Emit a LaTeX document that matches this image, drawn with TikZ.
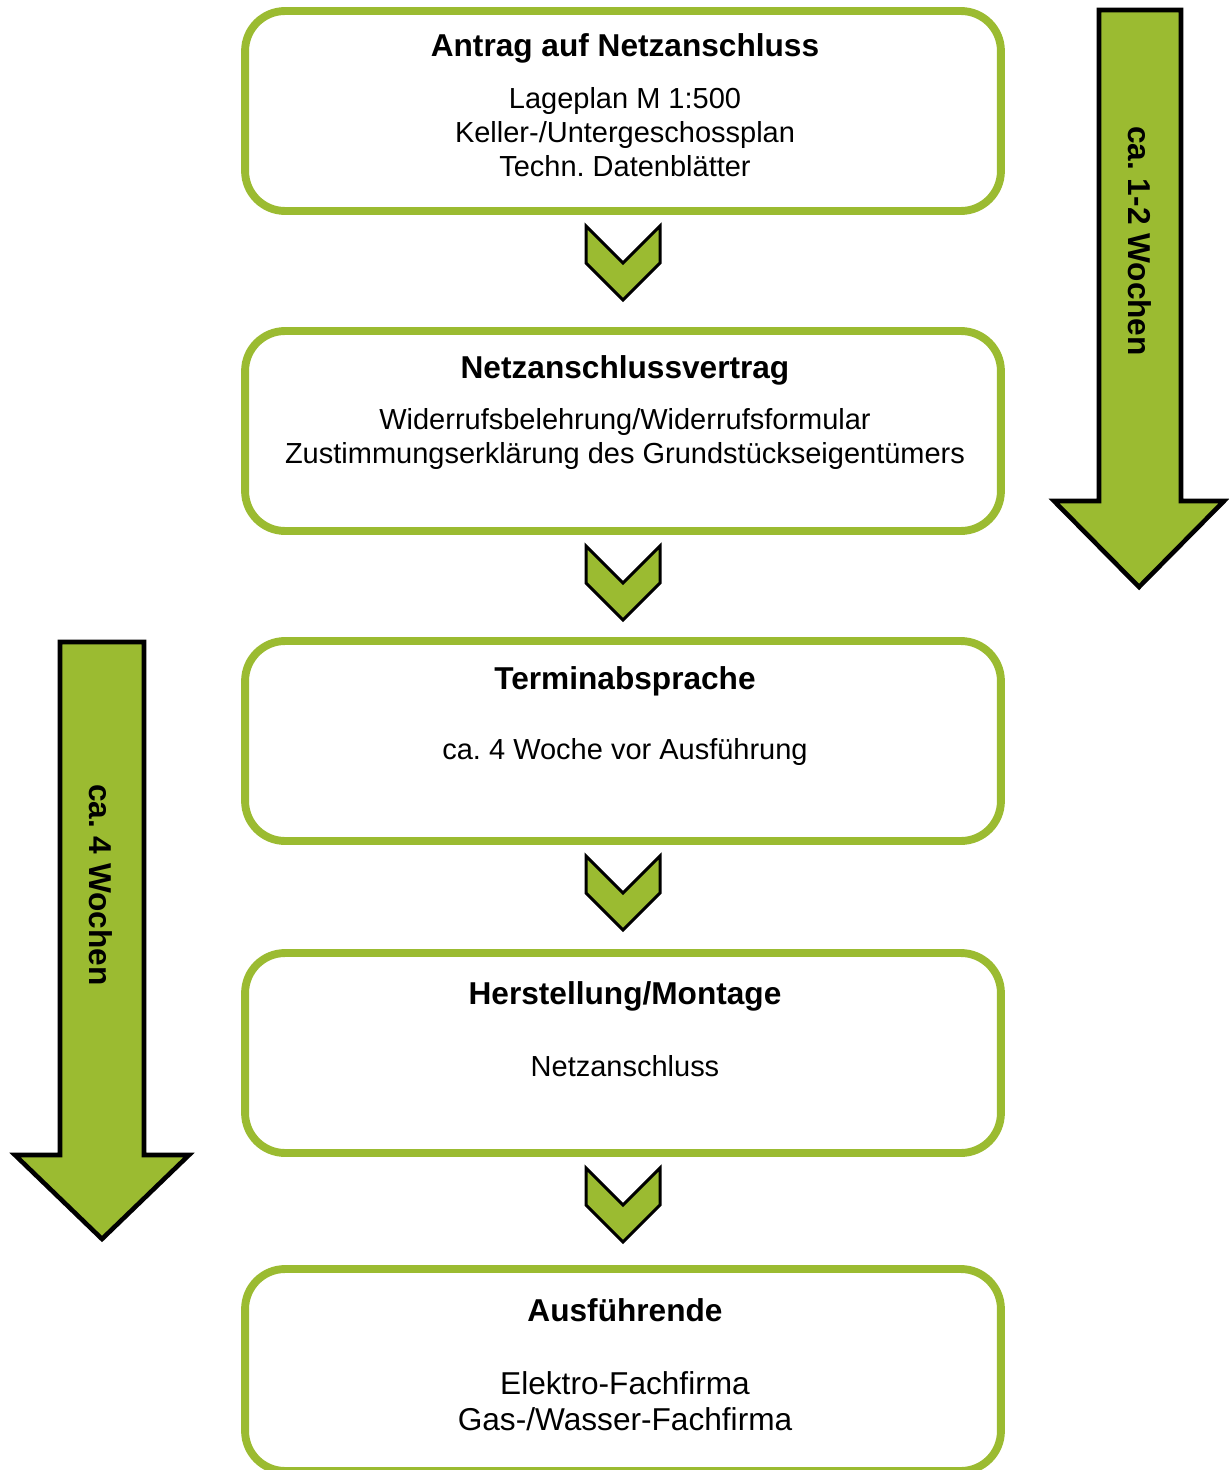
\documentclass[tikz,border=0pt]{standalone}
\usepackage{fontspec}
\setmainfont{Liberation Sans}
\usetikzlibrary{calc}

\definecolor{netzgruen}{RGB}{155,187,49}

\tikzset{
	stepbox/.style={draw=netzgruen, line width=4.5pt, rounded corners=0.8cm,
		minimum width=15.12cm, minimum height=4cm},
	titel/.style={font=\fontsize{18}{21}\selectfont\bfseries},
	inhalt/.style={font=\fontsize{16.5}{19.3}\selectfont, align=center},
	chevron/.style={fill=netzgruen, draw=black, line width=1.7pt, line join=miter},
	dauerpfeil/.style={fill=netzgruen, draw=black, line width=2.6pt, line join=miter},
	dauer/.style={font=\fontsize{18}{21}\selectfont\bfseries, rotate=-90},
}

\frenchspacing

\begin{document}
\begin{tikzpicture}[x=0.02cm, y=-0.02cm]
		\def\X{623}
		\def\T{625}

		\useasboundingbox (0,0) rectangle (1229,1470);

		% Schritte
		\node[stepbox] (antrag) at (\X,111) {};
		\node[stepbox] (vertrag) at (\X,431) {};
		\node[stepbox] (termin) at (\X,741) {};
		\node[stepbox] (montage) at (\X,1053) {};
		\node[stepbox, minimum height=4.04cm] (ausfuehrende) at (\X,1370) {};

		\node[titel] (antrag-titel) at (\T,48) {Antrag auf Netzanschluss};
		\node[inhalt] (antrag-text) at (\T,132)
			{Lageplan M 1:500\\Keller-/Untergeschossplan\\Techn. Datenblätter};

		\node[titel] (vertrag-titel) at (\T,370) {Netzanschlussvertrag};
		\node[inhalt] (vertrag-text) at (\T,439)
			{Widerrufsbelehrung/Widerrufsformular\\Zustimmungserklärung des Grundstückseigentümers};

		\node[titel] (termin-titel) at (\T,681) {Terminabsprache};
		\node[inhalt] (termin-text) at (\T,752) {ca. 4 Woche vor Ausführung};

		\node[titel] (montage-titel) at (\T,996) {Herstellung/Montage};
		\node[inhalt] (montage-text) at (\T,1066) {Netzanschluss};

		\node[titel] (ausfuehrende-titel) at (\T,1310) {Ausführende};
		\node[inhalt, font=\fontsize{18}{20.6}\selectfont] (ausfuehrende-text) at (\T,1401)
			{Elektro-Fachfirma\\Gas-/Wasser-Fachfirma};

		% Chevrons zwischen den Schritten
		\foreach \a in {antrag, vertrag, termin, montage}
			\draw[chevron] ($(\a.south)+(0,11)$) ++(-37,0) -- ++(37,37) -- ++(37,-37)
				-- ++(0,37) -- ++(-37,37) -- ++(-37,-37) -- cycle;

		% Dauerpfeile
		\draw[dauerpfeil] (1099,10) -- (1181,10) -- (1181,501) -- (1224,501)
			-- (1139,587) -- (1054,501) -- (1099,501) -- cycle;
		\node[dauer] (dauer-rechts) at (1140,241) {ca. 1-2 Wochen};

		\draw[dauerpfeil] (60,642) -- (144,642) -- (144,1155) -- (189,1155)
			-- (102,1239) -- (15,1155) -- (60,1155) -- cycle;
		\node[dauer] (dauer-links) at (101,885) {ca. 4 Wochen};
	\end{tikzpicture}
\end{document}
